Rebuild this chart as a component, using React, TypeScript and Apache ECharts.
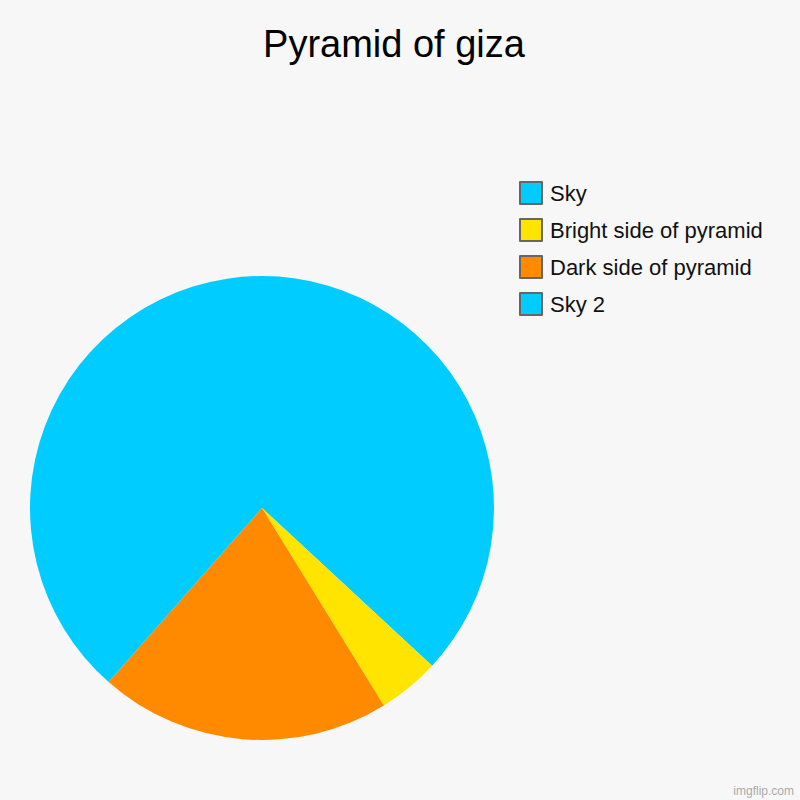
import React, { useEffect, useRef } from "react";
import * as echarts from "echarts";

const titleText = "Pyramid of giza";
const categories = ["Sky", "Bright side of pyramid", "Dark side of pyramid", "Sky 2"];
const values = [36.9, 4.3, 20.3, 38.5];
const colors = ["#00CCFF", "#FFE400", "#FF8A00", "#00CCFF"];
const watermark = "imgflip.com";

export default function App() {
  const ref = useRef<HTMLDivElement>(null);
  useEffect(() => {
    document.body.style.margin = "0";
    const chart = echarts.init(ref.current!, null, { renderer: "svg" });
    chart.setOption({
      animation: false,
      backgroundColor: "#F7F7F7",
      textStyle: { fontFamily: "Liberation Sans, Arial, sans-serif" },
      title: {
        text: titleText,
        left: 394,
        top: 25,
        padding: 0,
        textAlign: "center",
        textStyle: { fontSize: 38, fontWeight: "normal", color: "#000", fontFamily: "Liberation Sans, Arial, sans-serif" },
      },
      legend: {
        orient: "vertical",
        left: 519,
        top: 181,
        padding: 0,
        itemWidth: 22,
        itemHeight: 22,
        itemGap: 13,
        icon: "rect",
        itemStyle: { borderColor: "#666", borderWidth: 2 },
        textStyle: { fontSize: 22, lineHeight: 22, color: "#111", padding: [0, 0, 0, 3], fontFamily: "Liberation Sans, Arial, sans-serif" },
        data: categories,
      },
      graphic: [
        {
          type: "text",
          right: 6,
          bottom: 3,
          style: { text: watermark, fontSize: 12, fill: "#AAAAAA", fontFamily: "Liberation Sans, Arial, sans-serif" },
        },
      ],
      series: [
        {
          type: "pie",
          center: [262, 508],
          radius: 232,
          startAngle: 90,
          clockwise: true,
          label: { show: false },
          labelLine: { show: false },
          emphasis: { disabled: true },
          itemStyle: { borderWidth: 0 },
          data: categories.map((name, i) => ({ name, value: values[i], itemStyle: { color: colors[i] } })),
        },
      ],
    });
    return () => chart.dispose();
  }, []);
  return <div ref={ref} style={{ position: "absolute", left: 0, top: 0, width: 800, height: 800 }} />;
}
